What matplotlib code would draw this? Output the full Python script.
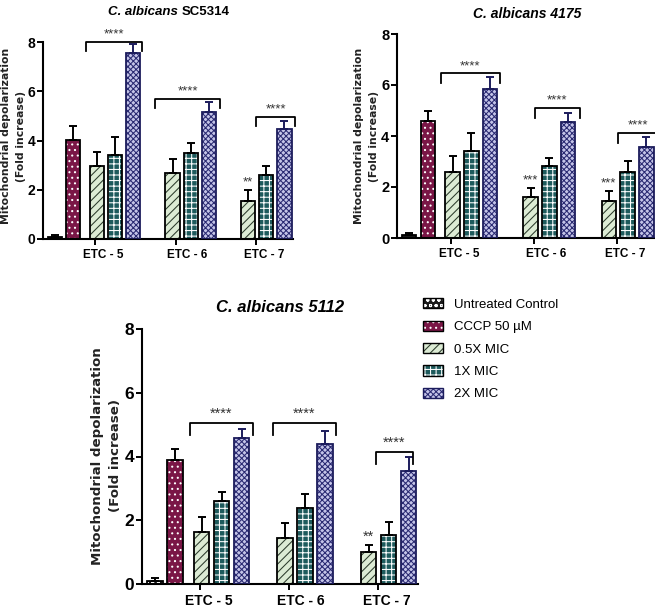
import numpy as np
import matplotlib
matplotlib.use('Agg')
import matplotlib.pyplot as plt
from matplotlib.patches import Patch

plt.rcParams['font.family'] = ['Liberation Sans', 'DejaVu Sans']
plt.rcParams['hatch.linewidth'] = 0.75

# ---- data ----
groups = ['ETC - 5', 'ETC - 6', 'ETC - 7']
series = ['Untreated Control', 'CCCP 50 µM', '0.5X MIC', '1X MIC', '2X MIC']

# C. albicans SC5314
sc_ctrl = [0.10, 4.02]
sc_ctrl_err = [0.08, 0.55]
sc_half = [2.95, 2.70, 1.55]
sc_half_err = [0.60, 0.55, 0.45]
sc_one = [3.40, 3.50, 2.60]
sc_one_err = [0.75, 0.40, 0.35]
sc_two = [7.55, 5.15, 4.45]
sc_two_err = [0.35, 0.40, 0.35]
sc_marks = ['', '', '**']
sc_bracket = [8.00, 5.70, 4.95]

# C. albicans 4175
c41_ctrl = [0.10, 4.57]
c41_ctrl_err = [0.08, 0.43]
c41_half = [2.60, 1.62, 1.45]
c41_half_err = [0.62, 0.36, 0.40]
c41_one = [3.42, 2.82, 2.60]
c41_one_err = [0.68, 0.30, 0.42]
c41_two = [5.85, 4.55, 3.55]
c41_two_err = [0.45, 0.35, 0.40]
c41_marks = ['', '***', '***']
c41_bracket = [6.46, 5.09, 4.11]

# C. albicans 5112
c51_ctrl = [0.10, 3.88]
c51_ctrl_err = [0.08, 0.35]
c51_half = [1.62, 1.45, 1.00]
c51_half_err = [0.48, 0.47, 0.22]
c51_one = [2.60, 2.40, 1.55]
c51_one_err = [0.30, 0.42, 0.38]
c51_two = [4.57, 4.40, 3.55]
c51_two_err = [0.30, 0.40, 0.45]
c51_marks = ['', '', '**']
c51_bracket = [5.06, 5.06, 4.15]

# ---- styles ----
styles = [
    dict(fc='#1a1a1a', hc='white', hatch='ooo', ec='black'),
    dict(fc='#7a1646', hc='white', hatch='...', ec='black'),
    dict(fc='#dcebd4', hc='#2b3b2b', hatch='////', ec='black'),
    dict(fc='#1d5a5c', hc='white', hatch='+++', ec='black'),
    dict(fc='#c4c4e8', hc='#2a2a72', hatch='xxxxxx', ec='#1c1c5c'),
]
W, H = 655, 610
group_start = np.array([2.33, 6.5, 10.68])
bar_w = 0.78


def fx(px):
    return px / W


def fy(py):
    return 1 - py / H


def pattern_bar(ax, x, h, err, st):
    ax.bar(x, h, width=bar_w, color=st['fc'], edgecolor=st['hc'],
           hatch=st['hatch'], linewidth=0, zorder=2)
    n = len(np.atleast_1d(h))
    ax.bar(x, h, width=bar_w, color='none', edgecolor=st['ec'], linewidth=1.3,
           zorder=3, yerr=[[0] * n, err],
           error_kw=dict(ecolor=st['ec'], elinewidth=1.4, capsize=2.6,
                         capthick=1.4, zorder=4))


def draw_panel(ax, ctrl, ctrl_err, half, half_err, one, one_err, two, two_err,
               marks, br_y, br_off, fs):
    pattern_bar(ax, [0], [ctrl[0]], [ctrl_err[0]], styles[0])
    pattern_bar(ax, [1], [ctrl[1]], [ctrl_err[1]], styles[1])
    pattern_bar(ax, group_start, half, half_err, styles[2])
    pattern_bar(ax, group_start + 1, one, one_err, styles[3])
    pattern_bar(ax, group_start + 2, two, two_err, styles[4])

    # significance over 0.5X bars
    for x, v, e, m in zip(group_start, half, half_err, marks):
        if m:
            ax.text(x, v + e + 0.05, m, ha='center', va='bottom',
                    fontsize=fs['star'], color='#333333')
    # brackets
    for g, y, (a, b) in zip(group_start, br_y, br_off):
        x0, x1 = g + a, g + 2 + b
        d = 0.38
        ax.plot([x0, x0, x1, x1], [y - d, y, y, y - d], color='black', lw=1.3,
                clip_on=False, zorder=5)
        ax.text((x0 + x1) / 2, y + 0.05, '****', ha='center', va='bottom',
                fontsize=fs['star'], color='#333333')

    ax.set_xlim(-0.65, 13.15)
    ax.set_ylim(0, 8)
    ax.set_yticks([0, 2, 4, 6, 8])
    ax.set_yticklabels(['0', '2', '4', '6', '8'], fontsize=fs['ytick'],
                       fontweight='bold')
    ax.set_xticks(group_start + np.array([0.35, 0.8, 0.9]))
    ax.set_xticklabels(groups, fontsize=fs['xtick'], fontweight='bold')
    ax.set_xticks(group_start + np.array([-0.1, 0.2, 0.45]), minor=True)
    ax.tick_params(axis='x', which='major', length=0, pad=7)
    ax.tick_params(axis='x', which='minor', length=4, width=1.4)
    ax.tick_params(axis='y', length=4, width=1.4, pad=1.5)
    for s in ['top', 'right']:
        ax.spines[s].set_visible(False)
    for s in ['left', 'bottom']:
        ax.spines[s].set_linewidth(1.5)


fig = plt.figure(figsize=(W / 100, H / 100), dpi=100)

ax1 = fig.add_axes([fx(43), fy(239), fx(293 - 43), (239 - 42) / H])
ax2 = fig.add_axes([fx(397), fy(238), fx(655 - 397), (238 - 34) / H])
ax3 = fig.add_axes([fx(142), fy(584), fx(418 - 142), (584 - 329) / H])

draw_panel(ax1, sc_ctrl, sc_ctrl_err, sc_half, sc_half_err, sc_one, sc_one_err,
           sc_two, sc_two_err, sc_marks, sc_bracket,
           [(-0.6, 0.5), (-0.97, 0.64), (0.44, 0.6)],
           dict(star=9.5, ytick=10, xtick=8.5))
draw_panel(ax2, c41_ctrl, c41_ctrl_err, c41_half, c41_half_err, c41_one,
           c41_one_err, c41_two, c41_two_err, c41_marks, c41_bracket,
           [(-0.64, 0.51), (0.21, 0.64), (0.48, 0.69)],
           dict(star=9.5, ytick=10.5, xtick=8.5))
draw_panel(ax3, c51_ctrl, c51_ctrl_err, c51_half, c51_half_err, c51_one,
           c51_one_err, c51_two, c51_two_err, c51_marks, c51_bracket,
           [(-0.6, 0.58), (-0.62, 0.54), (0.35, 0.22)],
           dict(star=10.5, ytick=12.5, xtick=10))

# titles
fig.text(fx(178), fy(12), 'C. albicans', ha='right', va='center', fontsize=9.5,
         fontweight='bold', fontstyle='italic')
fig.text(fx(182), fy(12), 'SC5314', ha='left', va='center', fontsize=9.5,
         fontweight='bold')
fig.text(fx(527), fy(14), 'C. albicans 4175', ha='center', va='center',
         fontsize=10, fontweight='bold', fontstyle='italic')
fig.text(fx(280), fy(307), 'C. albicans 5112', ha='center', va='center',
         fontsize=12, fontweight='bold', fontstyle='italic')

# y labels
for (x1, x2, yc, fs) in [(6, 21, 136, 7.8), (359, 374, 136, 7.8),
                         (97, 116, 456, 9.6)]:
    fig.text(fx(x1), fy(yc), 'Mitochondrial depolarization', rotation=90,
             ha='center', va='center', fontsize=fs, fontweight='bold',
             family='DejaVu Sans', color='#222222')
    fig.text(fx(x2), fy(yc), '(Fold increase)', rotation=90, ha='center',
             va='center', fontsize=fs, fontweight='bold', family='DejaVu Sans',
             color='#222222')

# legend
handles = [(Patch(facecolor=st['fc'], edgecolor=st['hc'], hatch=st['hatch'],
                  linewidth=0),
            Patch(facecolor='none', edgecolor=st['ec'], linewidth=1.0))
           for st in styles]
fig.legend(handles, series, loc='upper left', bbox_to_anchor=(fx(418), fy(293)),
           frameon=False, fontsize=9.5, handlelength=1.5, handleheight=0.8,
           labelspacing=0.74, handletextpad=0.8, borderaxespad=0)

fig.savefig('out.png', dpi=100)
